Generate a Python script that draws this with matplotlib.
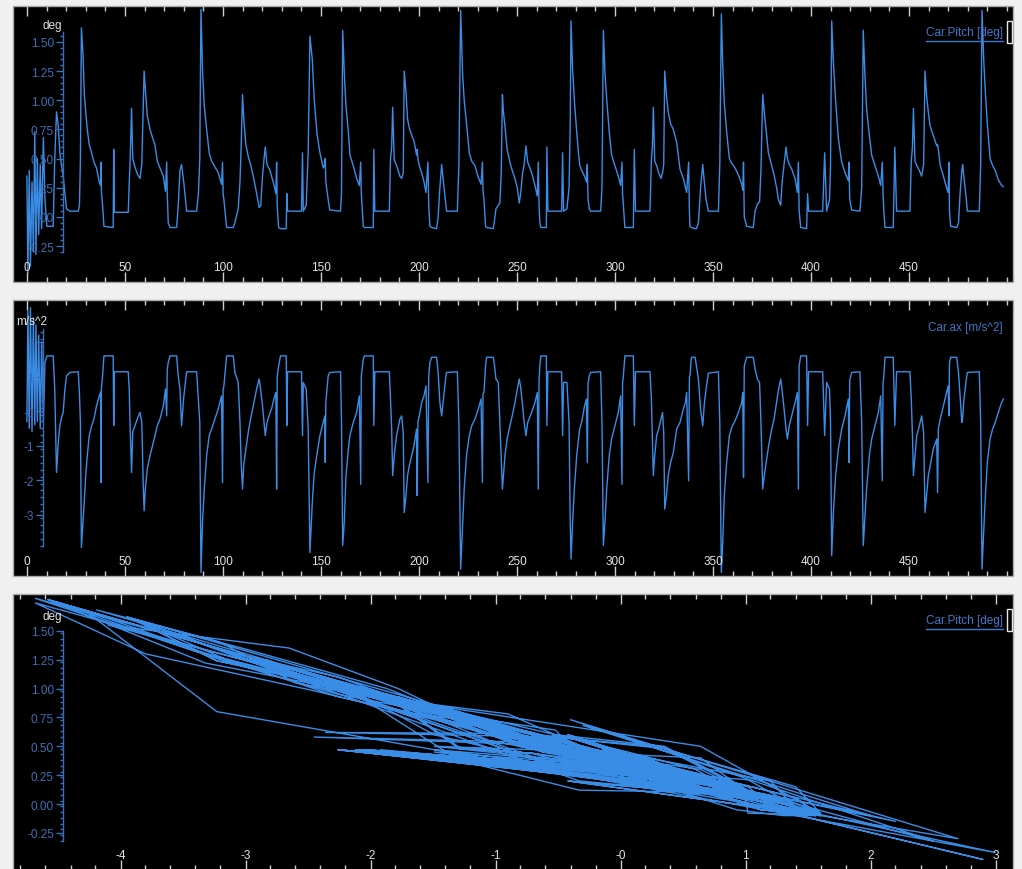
import numpy as np
import matplotlib
matplotlib.use("Agg")
import matplotlib.pyplot as plt
from matplotlib.ticker import MultipleLocator, FixedLocator, FixedFormatter
from matplotlib.patches import Rectangle

plt.rcParams['font.family'] = ['Liberation Sans', 'DejaVu Sans']

# ---------------- data ----------------
# segment 0: start-up transient
t0 = [0.0, 0.5, 1.2, 1.8, 2.6, 3.3, 4.0, 4.6, 5.3, 6.0,
      6.8, 7.5, 8.4, 9.2, 10.2, 13.4, 14.2, 15.1, 16.0, 16.8,
      17.6, 18.5, 19.4, 20.2, 21.9, 26.2]
p0 = [0.35, -0.48, 0.40, -0.42, 0.30, -0.30, 0.73, -0.32, 0.50, -0.15,
      0.45, -0.10, 0.68, 0.15, -0.08, -0.08, 0.50, 0.90, 0.78, 0.55,
      0.45, 0.35, 0.20, 0.07, 0.05, 0.05]
a0 = [-0.30, 2.90, -0.50, 3.00, -0.60, 2.70, -0.40, 2.50, -0.30, 2.20,
      -0.50, 2.00, -0.30, 1.40, 1.60, 1.60, 0.64, -1.78, -0.90, -0.42,
      -0.20, -0.04, 0.64, 1.02, 1.12, 1.14]

# segment 1
t1 = [26.8, 27.3, 27.8, 28.6, 29.3, 30.0, 30.8, 31.8, 33.0, 34.2,
      35.5, 36.9, 37.6, 37.8, 38.0, 38.6, 39.3, 44.0, 44.3, 44.6,
      51.7, 52.2, 52.6, 53.4, 54.0, 55.1, 56.3, 57.7, 58.6, 59.4,
      59.8, 60.4, 61.4, 62.8, 64.1, 65.3, 66.5, 67.9, 69.6, 70.7,
      71.3, 71.6, 72.1, 73.0, 76.4, 77.2, 78.1, 78.9, 80.0, 81.5,
      86.6, 87.5, 88.2, 88.8, 89.6, 90.5, 91.7, 93.0, 94.2, 95.9,
      97.6, 99.3, 99.8, 100.1, 100.5, 101.4, 101.9, 105.3, 106.1, 107.8,
      108.7, 109.3, 110.0, 110.6, 111.7, 112.9, 114.1, 115.5, 117.2, 118.5,
      119.3, 120.2, 121.0, 121.6, 122.5, 124.0, 124.8, 126.0, 127.0, 127.4,
      127.7, 128.4, 129.4, 132.3, 132.6, 133.0, 140.1, 140.6, 141.0, 142.5,
      143.5, 144.4, 145.6, 146.6, 148.1, 149.5, 151.2, 152.0, 152.2, 152.5,
      153.7, 154.5, 160.0, 160.5]
p1 = [0.10, 0.50, 1.62, 1.40, 1.05, 0.90, 0.75, 0.62, 0.55, 0.47,
      0.42, 0.30, 0.27, 0.47, 0.22, 0.10, -0.08, -0.09, 0.58, 0.04,
      0.04, 0.30, 0.45, 0.93, 0.50, 0.43, 0.37, 0.33, 0.45, 1.00,
      1.25, 1.10, 0.87, 0.75, 0.68, 0.62, 0.48, 0.42, 0.35, 0.22,
      0.47, 0.20, -0.05, -0.09, -0.09, 0.10, 0.40, 0.45, 0.30, 0.05,
      0.05, 0.20, 0.50, 1.78, 1.25, 0.95, 0.75, 0.55, 0.48, 0.43,
      0.38, 0.28, 0.47, 0.20, 0.15, 0.00, -0.09, -0.09, -0.05, 0.07,
      0.30, 0.60, 1.05, 0.85, 0.62, 0.52, 0.45, 0.35, 0.20, 0.08,
      0.10, 0.35, 0.50, 0.60, 0.45, 0.40, 0.35, 0.28, 0.20, 0.47,
      0.10, -0.09, -0.10, -0.10, 0.20, 0.05, 0.05, 0.55, 0.05, 0.10,
      0.55, 1.55, 1.35, 1.00, 0.70, 0.55, 0.42, 0.45, 0.50, 0.30,
      0.15, 0.06, 0.05, 0.20]
a1 = [0.50, -0.33, -3.95, -3.20, -2.60, -1.87, -1.29, -0.71, -0.43, -0.23,
      0.15, 0.44, 0.55, -2.07, 0.64, 1.02, 1.60, 1.60, -0.42, 1.14,
      1.14, 0.64, -0.33, -1.78, -0.60, -0.43, -0.23, -0.04, -0.33, -2.26,
      -2.89, -2.26, -1.68, -1.29, -1.00, -0.71, -0.43, -0.23, 0.15, 0.64,
      -0.14, 1.20, 1.41, 1.60, 1.60, 1.02, 0.64, -0.43, 0.40, 1.14,
      1.14, 0.30, -0.33, -4.68, -3.20, -2.26, -1.29, -0.71, -0.52, -0.23,
      0.06, 0.44, -2.07, 0.60, 0.73, 1.31, 1.60, 1.60, 1.12, 0.83,
      -0.33, -1.49, -2.26, -1.58, -1.10, -0.62, -0.23, 0.15, 0.64, 0.93,
      0.60, 0.15, -0.33, -0.71, -0.33, -0.05, 0.06, 0.35, 0.54, -2.26,
      1.00, 1.31, 1.60, 1.60, -0.42, 1.14, 1.14, -0.71, 0.83, 0.64,
      -0.50, -4.10, -2.65, -1.78, -1.20, -0.71, -0.33, -0.14, -1.49, 0.25,
      1.02, 1.12, 1.14, -0.33]

# segment 2
t2 = [161.1, 161.9, 162.8, 164.0, 164.8, 166.5, 168.2, 169.6, 170.3, 170.6,
      171.6, 172.2, 176.7, 177.0, 177.5, 184.9, 185.5, 186.1, 186.6, 187.4,
      188.6, 190.3, 191.2, 192.0, 192.5, 193.4, 194.2, 195.1, 196.3, 197.5,
      198.8, 199.1, 199.5, 200.2, 201.4, 202.6, 203.6, 204.6, 205.0, 205.6,
      206.5, 209.0, 209.8, 210.7, 211.6, 212.5, 213.8, 214.1, 219.6, 220.4,
      221.3, 222.3, 223.1, 224.3, 225.7, 226.9, 228.6, 230.3, 231.7, 232.4,
      232.7, 233.2, 234.0, 234.5, 237.9, 238.4, 239.3, 240.5, 241.3, 242.0,
      242.6, 243.1, 243.9, 245.0, 246.4, 247.6, 249.0, 250.2, 251.2, 251.9,
      252.9, 253.7, 254.6, 255.5, 257.5, 259.2, 260.4, 260.9, 261.3, 261.7,
      262.2, 265.0, 265.3, 265.8, 272.8, 273.3, 273.8, 275.5, 276.6, 277.2,
      277.6, 278.4, 279.3, 280.5, 281.4, 282.1, 283.0, 284.5, 285.5, 285.9,
      286.3, 286.9, 287.6, 292.7, 293.4]
p2 = [1.60, 1.24, 0.95, 0.73, 0.53, 0.44, 0.33, 0.27, 0.47, 0.21,
      -0.08, -0.09, -0.09, 0.58, 0.05, 0.05, 0.50, 0.60, 0.94, 0.49,
      0.44, 0.35, 0.33, 0.38, 1.25, 1.07, 0.84, 0.76, 0.70, 0.65,
      0.53, 0.58, 0.50, 0.44, 0.38, 0.30, 0.21, 0.47, 0.10, -0.08,
      -0.09, -0.10, 0.00, 0.25, 0.45, 0.30, 0.10, 0.05, 0.05, 0.45,
      1.77, 1.22, 1.00, 0.80, 0.55, 0.48, 0.44, 0.34, 0.28, 0.47,
      0.23, 0.15, -0.08, -0.09, -0.10, -0.05, 0.07, 0.10, 0.12, 0.38,
      1.05, 0.90, 0.78, 0.58, 0.47, 0.40, 0.33, 0.25, 0.12, 0.20,
      0.38, 0.45, 0.61, 0.47, 0.38, 0.27, 0.18, 0.47, 0.10, -0.05,
      -0.09, -0.09, 0.60, 0.05, 0.05, 0.55, 0.05, 0.07, 0.25, 0.80,
      1.68, 1.27, 1.00, 0.73, 0.55, 0.44, 0.40, 0.35, 0.30, 0.45,
      0.15, 0.07, 0.05, 0.05, 0.25]
a2 = [-3.90, -3.23, -1.87, -1.10, -0.70, -0.33, -0.04, 0.44, -2.12, 1.02,
      1.50, 1.60, 1.60, -0.42, 1.14, 1.14, 0.35, -0.52, -1.87, -1.29,
      -0.71, -0.23, -0.14, -0.62, -2.94, -2.45, -1.87, -1.58, -1.29, -1.00,
      -0.52, -2.45, -0.30, -0.14, 0.25, 0.44, 0.73, -2.07, 1.00, 1.41,
      1.56, 1.56, 1.12, 0.25, -0.14, 0.35, 1.02, 1.12, 1.14, -0.33,
      -4.58, -3.32, -2.26, -1.29, -0.71, -0.43, -0.23, 0.06, 0.35, -2.07,
      0.50, 0.54, 1.31, 1.56, 1.56, 1.40, 0.93, 0.83, -0.33, -1.29,
      -2.26, -1.87, -1.29, -0.81, -0.43, -0.14, 0.25, 0.64, 0.93, 0.70,
      0.15, -0.33, -0.71, -0.33, -0.04, 0.25, 0.54, -2.26, 0.90, 1.31,
      1.60, 1.60, -0.42, 1.14, 1.14, -0.71, 0.83, 0.83, -0.33, -3.23,
      -4.29, -3.23, -2.26, -1.29, -0.81, -0.50, -0.33, 0.15, 0.35, -1.49,
      0.80, 1.02, 1.12, 1.14, -0.33]

# segment 3
t3 = [294.1, 294.9, 295.8, 297.1, 298.3, 300.0, 301.7, 302.9, 303.6, 303.9,
      304.3, 305.1, 309.4, 309.9, 310.5, 317.9, 318.6, 319.1, 319.6, 320.3,
      321.3, 322.3, 323.5, 324.3, 324.9, 325.4, 326.3, 327.2, 328.4, 329.8,
      331.5, 333.2, 334.9, 336.0, 336.6, 337.6, 338.0, 338.3, 339.0, 340.9,
      341.6, 342.6, 343.7, 344.8, 345.6, 346.5, 347.7, 352.8, 353.5, 354.3,
      355.0, 355.8, 357.0, 358.4, 359.6, 361.3, 363.0, 364.7, 365.2, 365.6,
      366.0, 367.2, 370.6, 371.5, 372.7, 373.8, 374.5, 375.4, 376.2, 377.4,
      378.3, 380.0, 381.2, 382.5, 383.4, 384.6, 385.3, 386.3, 387.3, 388.0,
      389.0, 390.2, 391.9, 393.1, 393.6, 394.0, 394.8, 397.8, 398.3, 398.8,
      406.0, 407.0, 408.0, 409.5, 410.0, 410.6, 411.4, 412.6, 414.0, 415.7,
      417.4, 419.1, 419.4, 419.8, 420.8, 425.0, 425.9]
p3 = [1.60, 1.24, 1.01, 0.73, 0.53, 0.44, 0.35, 0.27, 0.47, 0.20,
      0.10, -0.09, -0.09, 0.58, 0.05, 0.05, 0.49, 0.60, 0.94, 0.48,
      0.44, 0.38, 0.33, 0.38, 0.45, 1.25, 1.04, 0.90, 0.80, 0.75,
      0.64, 0.41, 0.33, 0.25, 0.21, 0.47, 0.05, -0.08, -0.09, -0.10,
      -0.10, -0.05, 0.25, 0.45, 0.30, 0.15, 0.05, 0.05, 0.45, 1.74,
      1.30, 0.98, 0.73, 0.50, 0.46, 0.42, 0.36, 0.28, 0.23, 0.47,
      0.00, -0.08, -0.09, 0.05, 0.11, 0.13, 0.40, 1.05, 0.90, 0.70,
      0.55, 0.44, 0.36, 0.25, 0.15, 0.10, 0.30, 0.45, 0.60, 0.50,
      0.45, 0.41, 0.33, 0.21, 0.47, 0.05, -0.09, -0.10, 0.20, 0.05,
      0.05, 0.55, 0.05, 0.15, 0.45, 1.68, 1.35, 1.00, 0.67, 0.47,
      0.38, 0.31, 0.47, 0.15, 0.06, 0.05, 0.25]
a3 = [-3.90, -3.23, -2.26, -1.29, -0.81, -0.43, -0.04, 0.44, -2.12, 0.80,
      1.02, 1.60, 1.60, -0.42, 1.14, 1.14, 0.35, -0.71, -1.87, -1.29,
      -0.71, -0.52, -0.23, -0.04, -0.62, -2.84, -2.45, -1.87, -1.49, -1.20,
      -0.52, -0.33, 0.06, 0.25, 0.54, -2.02, 1.00, 1.02, 1.56, 1.56,
      1.30, 0.93, 0.06, -0.43, 0.20, 0.64, 1.10, 1.14, -0.33, -4.68,
      -3.80, -2.45, -1.49, -0.71, -0.47, -0.28, -0.04, 0.25, 0.54, -1.92,
      1.31, 1.56, 1.56, 1.22, 0.93, 0.83, -0.33, -2.26, -1.87, -1.39,
      -1.05, -0.52, -0.23, 0.25, 0.60, 0.93, 0.60, 0.06, -0.52, -0.81,
      -0.40, -0.14, 0.25, 0.54, -2.26, 1.31, 1.60, 1.60, -0.42, 1.14,
      1.14, -0.71, 0.83, 0.64, -0.33, -4.19, -3.03, -1.87, -1.10, -0.52,
      -0.14, 0.35, -1.49, 0.90, 1.12, 1.14, -0.33]

# segment 4
t4 = [426.7, 427.5, 428.4, 429.8, 431.0, 432.7, 434.4, 435.6, 436.4, 436.8,
      437.2, 437.8, 442.0, 442.8, 443.7, 450.5, 451.2, 451.8, 452.3, 453.1,
      454.0, 455.3, 456.5, 457.5, 458.2, 459.0, 459.9, 460.8, 462.4, 464.2,
      464.6, 465.0, 466.0, 467.6, 469.2, 470.0, 470.4, 470.7, 471.3, 474.4,
      475.3, 476.1, 477.0, 477.4, 478.0, 479.3, 479.8, 485.9, 486.6, 487.3,
      488.2, 489.2, 490.0, 491.4, 492.7, 494.0, 495.6, 497.3, 498.2]
p4 = [1.60, 1.24, 0.93, 0.70, 0.53, 0.44, 0.35, 0.27, 0.47, 0.20,
      0.05, -0.09, -0.09, 0.60, 0.05, 0.05, 0.48, 0.60, 0.93, 0.48,
      0.44, 0.40, 0.35, 0.45, 1.25, 1.04, 0.90, 0.78, 0.70, 0.61,
      0.62, 0.58, 0.44, 0.35, 0.25, 0.21, 0.47, 0.05, -0.08, -0.09,
      -0.05, 0.20, 0.40, 0.45, 0.35, 0.15, 0.05, 0.05, 0.45, 1.77,
      1.33, 1.01, 0.80, 0.50, 0.44, 0.40, 0.32, 0.27, 0.26]
a4 = [-3.90, -3.13, -2.26, -1.29, -0.81, -0.43, -0.04, 0.44, -2.02, 0.80,
      1.02, 1.56, 1.56, -0.42, 1.14, 1.14, 0.35, -0.71, -1.87, -1.29,
      -0.71, -0.43, -0.14, -0.62, -2.94, -2.45, -1.87, -1.60, -1.10, -0.81,
      -2.36, -0.52, -0.23, 0.15, 0.54, 0.73, -0.14, 1.41, 1.56, 1.56,
      1.12, 0.44, -0.33, -0.20, 0.30, 0.93, 1.12, 1.14, -0.33, -4.58,
      -3.42, -2.26, -1.49, -0.81, -0.52, -0.33, -0.04, 0.25, 0.35]

# axis ticks / labels
time_ticks = [0, 50, 100, 150, 200, 250, 300, 350, 400, 450]
time_labels = ['0', '50', '100', '150', '200', '250', '300', '350', '400', '450']
pitch_ticks = [-0.25, 0.0, 0.25, 0.5, 0.75, 1.0, 1.25, 1.5]
pitch_labels = ['-0.25', '0.00', '0.25', '0.50', '0.75', '1.00', '1.25', '1.50']
ax_ticks = [-3, -2, -1, 0, 1, 2]
ax_labels = ['-3', '-2', '-1', '-0', '1', '2']
axx_ticks = [-4, -3, -2, -1, 0, 1, 2, 3]
axx_labels = ['-4', '-3', '-2', '-1', '-0', '1', '2', '3']

time_s = np.concatenate([t0, t1, t2, t3, t4])
pitch_deg = np.concatenate([p0, p1, p2, p3, p4])
accel_x = np.concatenate([a0, a1, a2, a3, a4])

# ---------------- drawing ----------------
W, H = 1022, 870
fig = plt.figure(figsize=(W / 100, H / 100), dpi=100, facecolor='#f0f0f0')

LINE = '#3a8de6'
AXBLUE = '#3d6fb8'
TICKC = '#cfcfcf'
TXT = '#e4e4e4'


def make_panel(top_px, bottom_px, xlim, ylim, spine_px, spine_bounds,
               xticks, xlabels, xminor, yticks, ylabels, yminor):
    left_px, right_px = 13, 1013
    ax = fig.add_axes([left_px / W, 1 - bottom_px / H,
                       (right_px - left_px) / W, (bottom_px - top_px) / H])
    ax.set_facecolor('black')
    ax.set_axisbelow(False)
    ax.set_xlim(*xlim)
    ax.set_ylim(*ylim)
    for s in ['top', 'right', 'bottom']:
        ax.spines[s].set_visible(False)
    ax.add_patch(Rectangle((0, 0), 1, 1, transform=ax.transAxes, fill=False,
                           ec='#a9a9a9', lw=1.0, clip_on=False, zorder=6))
    ax.spines['left'].set_position(('axes', (spine_px - left_px) / (right_px - left_px)))
    ax.spines['left'].set_bounds(*spine_bounds)
    ax.spines['left'].set_color(AXBLUE)
    ax.spines['left'].set_linewidth(1.0)
    ax.xaxis.set_major_locator(FixedLocator(xticks))
    ax.xaxis.set_major_formatter(FixedFormatter(xlabels))
    ax.xaxis.set_minor_locator(MultipleLocator(xminor))
    ax.yaxis.set_major_locator(FixedLocator(yticks))
    ax.yaxis.set_major_formatter(FixedFormatter(ylabels))
    ax.yaxis.set_minor_locator(FixedLocator(
        [v for v in np.arange(spine_bounds[0], spine_bounds[1] + 1e-9, yminor)]))
    ax.tick_params(axis='x', which='both', direction='in', top=True, bottom=True,
                   color=TICKC, labelcolor=TXT, labelsize=8.5, pad=-15, width=1.0)
    ax.tick_params(axis='x', which='major', length=7)
    ax.tick_params(axis='x', which='minor', length=3.5)
    ax.tick_params(axis='y', which='both', direction='out', color=AXBLUE,
                   labelcolor=AXBLUE, labelsize=8.5, pad=1.5, width=1.0)
    ax.tick_params(axis='y', which='major', length=5)
    ax.tick_params(axis='y', which='minor', length=2.5)
    return ax


def legend_label(ax, text, y, underline=True, box=True):
    txt = ax.text(0.990, y, text, transform=ax.transAxes, ha='right', va='center',
                  color='#3f78c8', fontsize=8.5, zorder=7)
    fig.canvas.draw()
    bb = txt.get_window_extent().transformed(ax.transAxes.inverted())
    if underline:
        ax.plot([bb.x0, bb.x1], [bb.y0 - 0.012, bb.y0 - 0.012], transform=ax.transAxes,
                color='#3f78c8', lw=1.0, zorder=7, clip_on=False)
    if box:
        ax.add_patch(Rectangle((0.994, y - 0.04), 0.0045, 0.08, transform=ax.transAxes,
                               fill=False, ec='#e8e8e8', lw=1.0, zorder=7))


# panel 1: pitch vs time
ax1 = make_panel(7, 283, (-7.1, 503.1), (-0.557, 1.808), 63, (-0.30, 1.585),
                 time_ticks, time_labels, 10, pitch_ticks, pitch_labels, 0.05)
ax1.plot(time_s, pitch_deg, color=LINE, lw=1.0, zorder=2)
ax1.text(0.049, 0.93, 'deg', transform=ax1.transAxes, ha='right', va='center',
         color=TXT, fontsize=8.5, zorder=7)
legend_label(ax1, 'Car.Pitch [deg]', 0.906)

# panel 2: longitudinal acceleration vs time
ax2 = make_panel(301, 577, (-7.1, 503.1), (-4.78, 3.22), 43, (-3.9, 2.38),
                 time_ticks, time_labels, 10, ax_ticks, ax_labels, 0.2)
ax2.plot(time_s, accel_x, color=LINE, lw=1.0, zorder=2)
ax2.text(0.003, 0.924, 'm/s^2', transform=ax2.transAxes, ha='left', va='center',
         color=TXT, fontsize=8.5, zorder=7)
legend_label(ax2, 'Car.ax [m/s^2]', 0.902, underline=False, box=False)

# panel 3: pitch vs acceleration
ax3 = make_panel(595, 871, (-4.86, 3.14), (-0.571, 1.818), 63, (-0.32, 1.50),
                 axx_ticks, axx_labels, 0.2, pitch_ticks, pitch_labels, 0.05)
ax3.plot(accel_x, pitch_deg, color=LINE, lw=1.0, zorder=2)
ax3.text(0.049, 0.92, 'deg', transform=ax3.transAxes, ha='right', va='center',
         color=TXT, fontsize=8.5, zorder=7)
legend_label(ax3, 'Car.Pitch [deg]', 0.906)

fig.savefig('out.png', dpi=100, facecolor=fig.get_facecolor())
